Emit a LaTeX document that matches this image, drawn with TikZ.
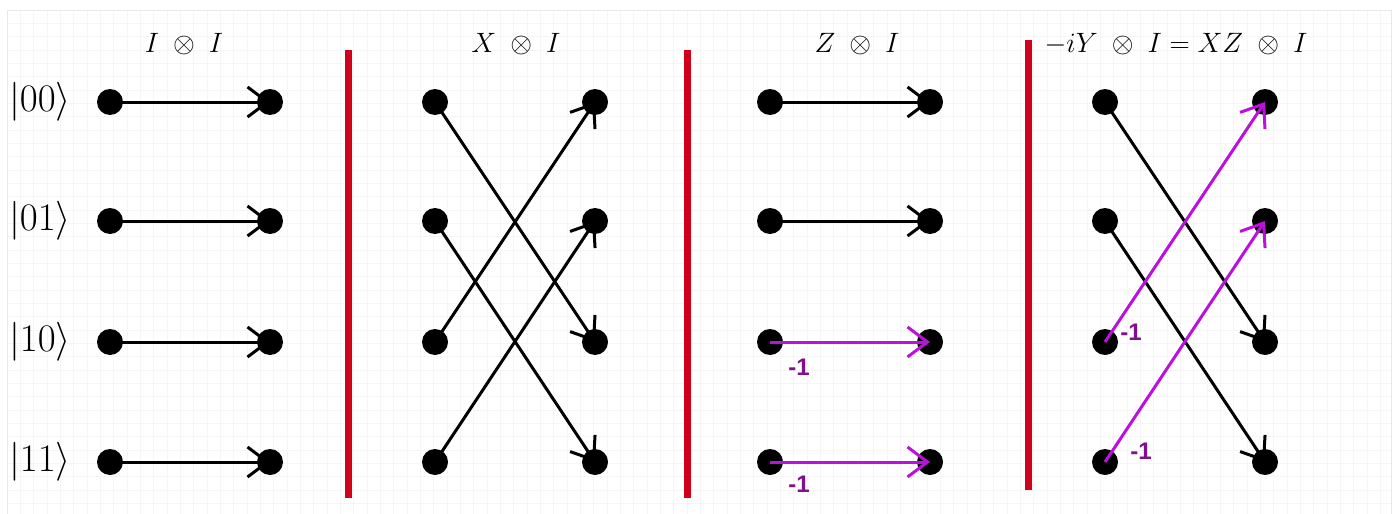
\RequirePackage{fix-cm}
\documentclass[tikz,border=0pt]{standalone}
\usepackage{fontspec}
\newfontfamily\labfont{Liberation Sans}
\usetikzlibrary{arrows.meta}
\definecolor{barred}{RGB}{208,2,27}
\definecolor{arrmag}{RGB}{187,17,221}
\definecolor{labpur}{RGB}{128,16,140}
\begin{document}
\begin{tikzpicture}[x=1pt,y=-1pt,
  dot/.style={circle,fill=black,inner sep=0pt,minimum size=26pt},
  arr/.style={draw=black,line width=3pt,-{Straight Barb[length=20pt,width=30pt]}},
  marr/.style={arr,draw=arrmag},
  redbar/.style={draw=barred,line width=7pt},
  lab/.style={font=\labfont\bfseries\fontsize{24}{28}\selectfont,text=labpur,inner sep=0pt},
  title/.style={font=\fontsize{28}{33}\selectfont,anchor=base,inner sep=0pt},
  ket/.style={font=\fontsize{39}{44}\selectfont,inner sep=0pt}
]
\useasboundingbox (0,0) rectangle (1393,514);
\fill[white] (0,0) rectangle (1393,514);
% grid
\begin{scope}
\clip (7,10) rectangle (1391,514);
\foreach \i in {0,...,104} {\draw[gray!8,line width=0.8pt] (7+\i*13.333,10) -- ++(0,504);}
\foreach \j in {0,...,38} {\draw[gray!8,line width=0.8pt] (7,10+\j*13.333) -- ++(1384,0);}
\end{scope}
\draw[gray!18,line width=1pt] (7,514) -- (7,10) -- (1391,10) -- (1391,514);

% red separators
\draw[redbar] (348,50) -- (348,498);
\draw[redbar] (687.5,50) -- (687.5,498);
\draw[redbar] (1028,40) -- (1028,490);

% titles
\node[title] (t1) at (184,52) {$I\;\otimes\;I$};
\node[title] (t2) at (516,52) {$X\;\otimes\;I$};
\node[title] (t3) at (857,52) {$Z\;\otimes\;I$};
\node[title] (t4) at (1176,52) {$-iY\;\otimes\;I=XZ\;\otimes\;I$};

% kets
\node[ket] (k1) at (40,102) {$|00\rangle$};
\node[ket] (k2) at (40,221) {$|01\rangle$};
\node[ket] (k3) at (40,342) {$|10\rangle$};
\node[ket] (k4) at (40,462) {$|11\rangle$};

% dots
\foreach \p/\xl/\xr in {1/110/270, 2/435/595, 3/770/930, 4/1105/1265} {
  \foreach \r/\y in {1/102, 2/221, 3/342, 4/462} {
    \node[dot] (l\p\r) at (\xl,\y) {};
    \node[dot] (r\p\r) at (\xr,\y) {};
  }
}

% panel 1: I x I
\foreach \r in {1,2,3,4} {\draw[arr] (l1\r.center) -- (r1\r.center);}
% panel 2: X x I
\draw[arr] (l21.center) -- (r23.center);
\draw[arr] (l22.center) -- (r24.center);
\draw[arr] (l23.center) -- (r21.center);
\draw[arr] (l24.center) -- (r22.center);
% panel 3: Z x I
\draw[arr] (l31.center) -- (r31.center);
\draw[arr] (l32.center) -- (r32.center);
\draw[marr] (l33.center) -- (r33.center);
\draw[marr] (l34.center) -- (r34.center);
% panel 4
\draw[arr] (l41.center) -- (r43.center);
\draw[arr] (l42.center) -- (r44.center);
\draw[marr] (l43.center) -- (r41.center);
\draw[marr] (l44.center) -- (r42.center);

% -1 labels
\node[lab] (m1) at (799,367) {-1};
\node[lab] (m2) at (799,484) {-1};
\node[lab] (m3) at (1131,332) {-1};
\node[lab] (m4) at (1141,451) {-1};
\end{tikzpicture}
\end{document}
